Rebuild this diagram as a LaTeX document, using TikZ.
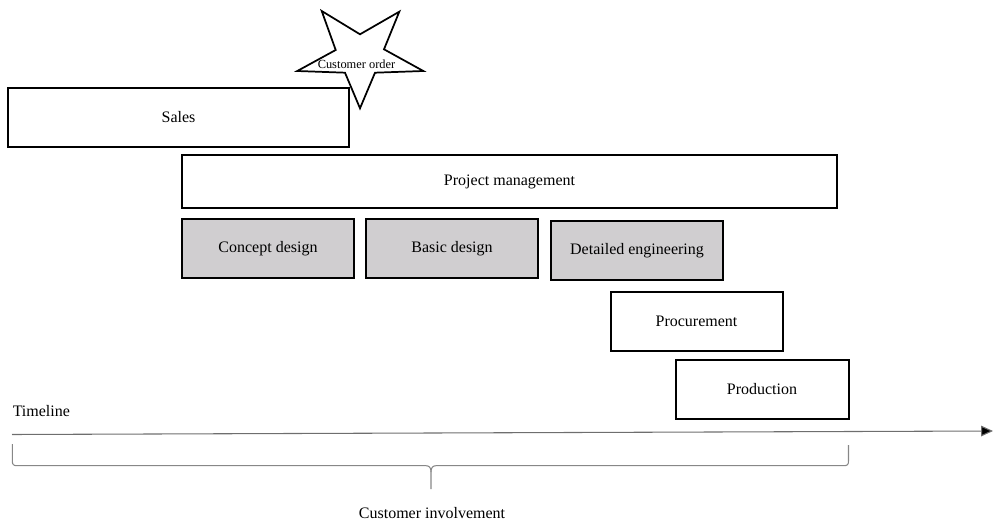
\documentclass[tikz,border=0pt]{standalone}
\usepackage{fontspec}
\setmainfont{Liberation Serif}
\usetikzlibrary{arrows.meta}
\definecolor{phasefill}{RGB}{208,206,208}
\definecolor{axisgray}{RGB}{110,110,110}
\definecolor{bracegray}{RGB}{135,135,135}
\tikzset{
  box/.style={draw=black, line width=1.5pt, fill=white, inner sep=0pt,
    font=\fontsize{12pt}{14pt}\selectfont},
  phase/.style={box, fill=phasefill},
  label/.style={inner sep=0pt, font=\fontsize{12pt}{14pt}\selectfont},
  axis/.style={draw=axisgray, line width=0.8pt,
    -{Triangle[length=9pt, width=8pt, fill=black]}},
  bracket/.style={draw=bracegray, line width=0.8pt},
  starline/.style={draw=black, line width=1.3pt, fill=white, line join=miter}
}
\begin{document}
\begin{tikzpicture}[x=0.75pt, y=-0.75pt]
\useasboundingbox (0,0) rectangle (994,523);

% activity bars along the timeline
\node[box, minimum width=341*0.75pt, minimum height=59*0.75pt] (sales) at (178.5,117.5) {\raisebox{1.5pt}{Sales}};
\node[box, minimum width=655*0.75pt, minimum height=53*0.75pt] (pm) at (509.5,181.5) {Project management};
\node[phase, minimum width=172*0.75pt, minimum height=59*0.75pt] (concept) at (268,249) {\raisebox{1pt}{Concept design}};
\node[phase, minimum width=172*0.75pt, minimum height=59*0.75pt] (basic) at (452,249) {\raisebox{1pt}{Basic design}};
\node[phase, minimum width=172*0.75pt, minimum height=59*0.75pt] (detail) at (637,251) {Detailed engineering};
\node[box, minimum width=172*0.75pt, minimum height=59.5*0.75pt] (procure) at (696.5,321.5) {\raisebox{0.8pt}{Procurement}};
\node[box, minimum width=173*0.75pt, minimum height=59*0.75pt] (production) at (762,389) {\raisebox{0.8pt}{Production}};

% customer order milestone (five-pointed star)
\draw[starline] (321.7,11) -- (360,34.3) -- (399.3,11.7) -- (384,49.3) -- (423.3,71)
  -- (375,72.7) -- (360,108.3) -- (345,72.7) -- (297.3,71) -- (335.7,50) -- cycle;
\node[inner sep=0pt, font=\fontsize{9.3pt}{10pt}\selectfont] (order) at (356.5,64) {Customer order};

% timeline axis
\node[label, anchor=west] (timeline) at (12.5,411) {Timeline};
\coordinate (tstart) at (12,434.5);
\coordinate (tend) at (993,431);
\draw[axis] (tstart) -- (tend);

% brace spanning the customer involvement
\coordinate (bl) at (12.3,444);
\coordinate (br) at (848.5,445);
\coordinate (bm) at (431,489);
\draw[bracket] (bl) -- (12.3,461) .. controls (12.3,464.5) and (13.5,465.7) .. (17,465.7)
  -- (426,465.7) .. controls (429.5,465.7) and (431,468) .. (431,472) -- (bm);
\draw[bracket] (431,472) .. controls (431,468) and (432.5,465.7) .. (436,465.7)
  -- (844,465.7) .. controls (847.3,465.7) and (848.5,464.5) .. (848.5,461) -- (br);
\node[label] (involve) at (432,513) {Customer involvement};
\end{tikzpicture}
\end{document}
